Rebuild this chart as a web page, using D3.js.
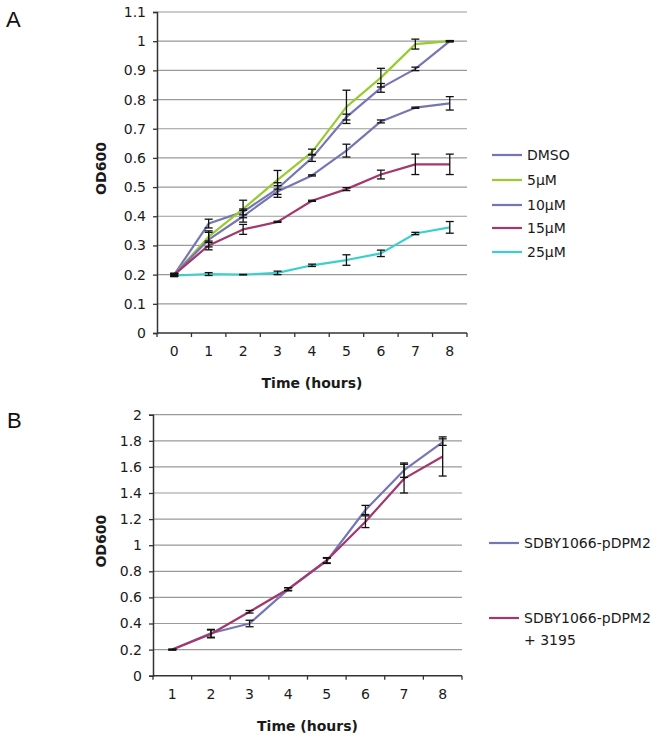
<!DOCTYPE html>
<html>
<head>
<meta charset="utf-8">
<script src="https://cdn.jsdelivr.net/npm/d3@7"></script>
<style>
  body { margin: 0; background: #fff; }
  svg { display: block; font-family: "DejaVu Sans", sans-serif; }
</style>
</head>
<body>
<svg id="chart" width="672" height="739"></svg>
<script>
// ---- panel A data (hours 0..8) ----
const hoursA = [0, 1, 2, 3, 4, 5, 6, 7, 8];
const seriesNamesA = ["DMSO", "5μM", "10μM", "15μM", "25μM"];
const dmso = [0.2, 0.375, 0.415, 0.495, 0.6, 0.74, 0.84, 0.905, 1.0];
const dmsoErr = [0.004, 0.015, 0.01, 0.02, 0.012, 0.01, 0.015, 0.006, 0.002];
const uM5 = [0.2, 0.33, 0.425, 0.525, 0.62, 0.775, 0.875, 0.99, 1.0];
const uM5Err = [0.004, 0.02, 0.03, 0.032, 0.01, 0.057, 0.032, 0.017, 0.002];
const uM10 = [0.2, 0.32, 0.4, 0.485, 0.54, 0.625, 0.725, 0.772, 0.787];
const uM10Err = [0.004, 0.025, 0.02, 0.02, 0.002, 0.022, 0.005, 0.002, 0.023];
const uM15 = [0.2, 0.3, 0.355, 0.381, 0.453, 0.493, 0.543, 0.578, 0.578];
const uM15Err = [0.004, 0.015, 0.017, 0.002, 0.002, 0.005, 0.015, 0.035, 0.035];
const uM25 = [0.197, 0.202, 0.2, 0.206, 0.232, 0.25, 0.273, 0.341, 0.362];
const uM25Err = [0.004, 0.005, 0.001, 0.006, 0.004, 0.018, 0.011, 0.004, 0.02];
const yTicksA = [0, 0.1, 0.2, 0.3, 0.4, 0.5, 0.6, 0.7, 0.8, 0.9, 1, 1.1];

// ---- panel B data (hours 1..8) ----
const hoursB = [1, 2, 3, 4, 5, 6, 7, 8];
const seriesNamesB = ["SDBY1066-pDPM2", "SDBY1066-pDPM2\n+ 3195"];
const pdpm2 = [0.2, 0.325, 0.4, 0.662, 0.88, 1.27, 1.575, 1.79];
const pdpm2Err = [0.003, 0.03, 0.025, 0.012, 0.02, 0.035, 0.055, 0.025];
const pdpm2_3195 = [0.2, 0.32, 0.49, 0.664, 0.885, 1.18, 1.51, 1.68];
const pdpm2_3195Err = [0.003, 0.03, 0.01, 0.01, 0.02, 0.045, 0.11, 0.15];
const yTicksB = [0, 0.2, 0.4, 0.6, 0.8, 1, 1.2, 1.4, 1.6, 1.8, 2];

const COLORS = {
  blue: "#7676b6",
  green: "#9acb2e",
  maroon: "#a2386d",
  cyan: "#3ccfcf",
};

const svg = d3.select("#chart");

function drawPanel(cfg) {
  const g = svg.append("g");
  const x = d3.scaleBand().domain(cfg.hours).range([cfg.left, cfg.right]);
  const y = d3.scaleLinear().domain([0, cfg.yMax]).range([cfg.bottom, cfg.top]);
  const cx = (h) => x(h) + x.bandwidth() / 2;

  // gridlines
  g.append("g")
    .selectAll("line")
    .data(cfg.yTicks.filter((t) => t > 0))
    .join("line")
    .attr("x1", cfg.left)
    .attr("x2", cfg.right)
    .attr("y1", (d) => y(d))
    .attr("y2", (d) => y(d))
    .attr("stroke", "#9a9a9a")
    .attr("stroke-width", 1.2);

  // y axis
  const yAxis = d3.axisLeft(y).tickValues(cfg.yTicks).tickSize(4).tickPadding(7)
    .tickFormat((d) => d3.format("~g")(d));
  g.append("g")
    .attr("transform", `translate(${cfg.left},0)`)
    .call(yAxis)
    .call((a) => a.select(".domain").attr("stroke", "#333").attr("stroke-width", 1.5))
    .call((a) => a.selectAll(".tick line").attr("stroke", "#333").attr("stroke-width", 1.3))
    .call((a) => a.selectAll(".tick text").attr("font-size", 14).attr("fill", "#1a1a1a")
      .attr("font-family", "'DejaVu Sans', sans-serif"));

  // x axis: band boundaries as ticks, labels at centres
  const xAxis = d3.axisBottom(x).tickSize(0).tickPadding(13);
  const xa = g.append("g")
    .attr("transform", `translate(0,${cfg.bottom})`)
    .call(xAxis)
    .call((a) => a.select(".domain").attr("d", `M${cfg.left},0H${cfg.right}`)
      .attr("stroke", "#333").attr("stroke-width", 1.5))
    .call((a) => a.selectAll(".tick text").attr("font-size", 14).attr("fill", "#1a1a1a")
      .attr("font-family", "'DejaVu Sans', sans-serif"));
  xa.append("g")
    .selectAll("line")
    .data(cfg.hours.map((h) => x(h)).concat([cfg.right]))
    .join("line")
    .attr("x1", (d) => d)
    .attr("x2", (d) => d)
    .attr("y1", 0)
    .attr("y2", 4)
    .attr("stroke", "#333")
    .attr("stroke-width", 1.3);

  // series lines
  const line = d3.line().x((d) => cx(d.h)).y((d) => y(d.v));
  cfg.series.forEach((s) => {
    const pts = cfg.hours.map((h, i) => ({ h, v: s.values[i], e: s.err[i] }));
    g.append("path")
      .datum(pts)
      .attr("d", line)
      .attr("fill", "none")
      .attr("stroke", s.color)
      .attr("stroke-width", 2.2)
      .attr("stroke-linejoin", "round");
    s.pts = pts;
  });

  // error bars on top
  cfg.series.forEach((s) => {
    const eb = g.append("g")
      .selectAll("g")
      .data(s.pts)
      .join("g")
      .attr("stroke", "#111")
      .attr("stroke-width", 1.3);
    eb.append("line")
      .attr("x1", (d) => cx(d.h)).attr("x2", (d) => cx(d.h))
      .attr("y1", (d) => y(d.v - d.e)).attr("y2", (d) => y(d.v + d.e));
    [-1, 1].forEach((sgn) => {
      eb.append("line")
        .attr("x1", (d) => cx(d.h) - 4).attr("x2", (d) => cx(d.h) + 4)
        .attr("y1", (d) => y(d.v + sgn * d.e)).attr("y2", (d) => y(d.v + sgn * d.e));
    });
  });

  // axis titles
  g.append("text")
    .attr("x", (cfg.left + cfg.right) / 2)
    .attr("y", cfg.bottom + 55)
    .attr("text-anchor", "middle")
    .attr("font-size", 14)
    .attr("font-weight", "bold")
    .attr("fill", "#1a1a1a")
    .text("Time (hours)");
  g.append("text")
    .attr("transform", `translate(106,${(cfg.top + cfg.bottom) / 2 - 4}) rotate(-90)`)
    .attr("text-anchor", "middle")
    .attr("font-size", 14)
    .attr("font-weight", "bold")
    .attr("fill", "#1a1a1a")
    .text("OD600");

  // panel letter
  g.append("text")
    .attr("x", cfg.letterX)
    .attr("y", cfg.letterY)
    .attr("font-family", "'Liberation Sans', Arial, sans-serif")
    .attr("font-size", 22)
    .attr("fill", "#111")
    .text(cfg.letter);

  // legend
  const leg = g.append("g")
    .selectAll("g")
    .data(cfg.series)
    .join("g")
    .attr("transform", (d, i) => `translate(${cfg.legendX},${cfg.legendY[i]})`);
  leg.append("line")
    .attr("x1", 0).attr("x2", 30)
    .attr("stroke", (d) => d.color)
    .attr("stroke-width", 2.2);
  leg.append("text")
    .attr("x", 35)
    .attr("font-size", 14)
    .attr("fill", "#1a1a1a")
    .selectAll("tspan")
    .data((d) => d.name.split("\n"))
    .join("tspan")
    .attr("x", 35)
    .attr("dy", (d, i) => (i === 0 ? "0.35em" : "1.55em"))
    .text((d) => d);
}

drawPanel({
  letter: "A", letterX: 6, letterY: 27,
  hours: hoursA, yMax: 1.1, yTicks: yTicksA,
  left: 157, right: 467, top: 12, bottom: 333,
  legendX: 492, legendY: [155, 180, 205, 228, 252],
  series: [
    { name: seriesNamesA[0], values: dmso, err: dmsoErr, color: COLORS.blue },
    { name: seriesNamesA[1], values: uM5, err: uM5Err, color: COLORS.green },
    { name: seriesNamesA[2], values: uM10, err: uM10Err, color: COLORS.blue },
    { name: seriesNamesA[3], values: uM15, err: uM15Err, color: COLORS.maroon },
    { name: seriesNamesA[4], values: uM25, err: uM25Err, color: COLORS.cyan },
  ],
});

drawPanel({
  letter: "B", letterX: 7, letterY: 428,
  hours: hoursB, yMax: 2, yTicks: yTicksB,
  left: 153, right: 462, top: 414.7, bottom: 675.7,
  legendX: 489, legendY: [543, 618],
  series: [
    { name: seriesNamesB[0], values: pdpm2, err: pdpm2Err, color: COLORS.blue },
    { name: seriesNamesB[1], values: pdpm2_3195, err: pdpm2_3195Err, color: COLORS.maroon },
  ],
});
</script>
</body>
</html>
